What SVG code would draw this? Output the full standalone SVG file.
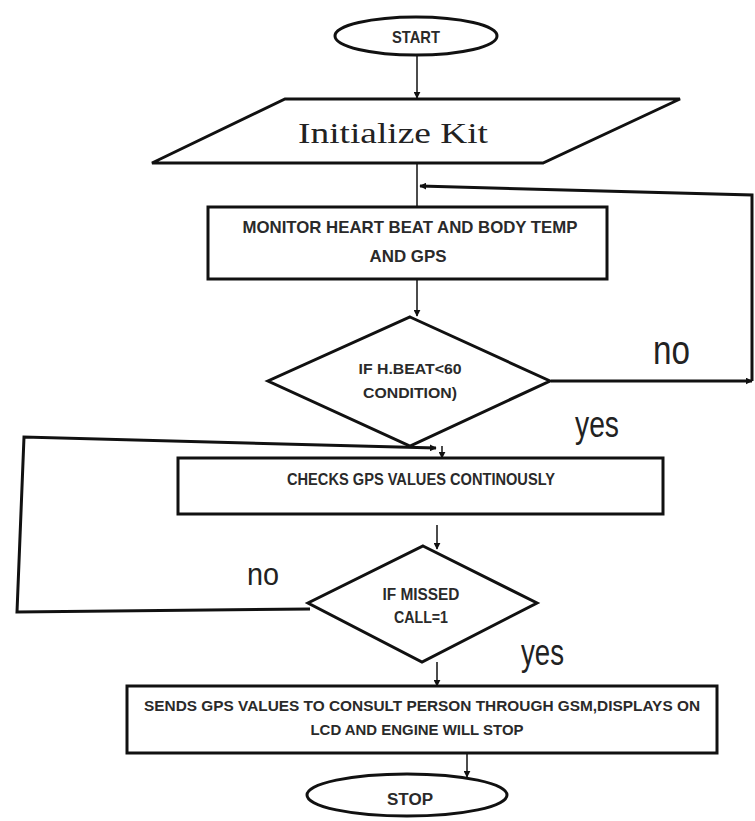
<svg xmlns="http://www.w3.org/2000/svg" width="755" height="821" viewBox="0 0 755 821">
<defs>
<marker id="arr" viewBox="0 0 10 10" refX="9" refY="5" markerWidth="7" markerHeight="7" markerUnits="userSpaceOnUse" orient="auto">
<path d="M0,0 L10,5 L0,10 z" fill="#111"/>
</marker>
</defs>
<style>
.shape{fill:#fff;stroke:#111;stroke-width:3}
.lbl{font-family:"Liberation Sans",Arial,sans-serif;font-weight:bold;fill:#2a2a2a;text-anchor:middle}
.yn{font-family:"Liberation Sans",Arial,sans-serif;fill:#222}
.con{fill:none;stroke:#111;stroke-width:1.5}
.loop{fill:none;stroke:#111;stroke-width:3}
</style>
<rect width="755" height="821" fill="#fff"/>
<g id="connectors">
<line class="con" x1="417" y1="56" x2="417" y2="98" marker-end="url(#arr)"/>
<line class="con" x1="417" y1="164" x2="417" y2="207"/>
<line class="loop" x1="551" y1="381" x2="752" y2="381" marker-end="url(#arr)"/>
<polyline class="loop" points="752,381 752,195 420,186" marker-end="url(#arr)"/>
<line class="con" x1="417" y1="280" x2="417" y2="316" marker-end="url(#arr)"/>
<line class="con" x1="442" y1="446" x2="442" y2="458" marker-end="url(#arr)"/>
<polyline class="loop" points="310,609 17,612 24,437 436,448" marker-end="url(#arr)"/>
<line class="con" x1="437" y1="525" x2="437" y2="549" marker-end="url(#arr)"/>
<line class="con" x1="437" y1="662" x2="437" y2="686" marker-end="url(#arr)"/>
<line class="con" x1="467" y1="754" x2="467" y2="777" marker-end="url(#arr)"/>
<text class="yn" x="653" y="364" font-size="40" textLength="37" lengthAdjust="spacingAndGlyphs">no</text>
<text class="yn" x="575" y="437" font-size="36" textLength="44" lengthAdjust="spacingAndGlyphs">yes</text>
<text class="yn" x="247" y="585" font-size="32" textLength="32" lengthAdjust="spacingAndGlyphs">no</text>
<text class="yn" x="521" y="665" font-size="36" textLength="43" lengthAdjust="spacingAndGlyphs">yes</text>
</g>
<g id="start">
<ellipse class="shape" cx="416" cy="36" rx="81" ry="19"/>
<text class="lbl" x="416" y="43" font-size="17" textLength="48" lengthAdjust="spacingAndGlyphs">START</text>
</g>
<g id="init">
<polygon class="shape" points="285,99 680,99 543,163 152,163"/>
<text x="393" y="143" font-family="'Liberation Serif','Times New Roman',serif" font-size="29" fill="#222" text-anchor="middle" textLength="190" lengthAdjust="spacingAndGlyphs">Initialize Kit</text>
</g>
<g id="monitor">
<rect class="shape" x="208" y="207" width="399" height="72"/>
<text class="lbl" x="410" y="233" font-size="17" textLength="335" lengthAdjust="spacingAndGlyphs">MONITOR HEART BEAT AND BODY TEMP</text>
<text class="lbl" x="408" y="262" font-size="17" textLength="77" lengthAdjust="spacingAndGlyphs">AND GPS</text>
</g>
<g id="cond1">
<polygon class="shape" points="410,317 550,381 410,446 268,381"/>
<text class="lbl" x="410" y="374" font-size="15" textLength="103" lengthAdjust="spacingAndGlyphs">IF H.BEAT&lt;60</text>
<text class="lbl" x="410" y="398" font-size="15" textLength="94" lengthAdjust="spacingAndGlyphs">CONDITION)</text>
</g>
<g id="checks">
<rect class="shape" x="178" y="458" width="485" height="56"/>
<text class="lbl" x="421" y="485" font-size="16" textLength="268" lengthAdjust="spacingAndGlyphs">CHECKS GPS VALUES CONTINOUSLY</text>
</g>
<g id="cond2">
<polygon class="shape" points="423,546 537,603 422,662 308,603"/>
<text class="lbl" x="421" y="600" font-size="16" textLength="77" lengthAdjust="spacingAndGlyphs">IF MISSED</text>
<text class="lbl" x="421" y="623" font-size="16" textLength="54" lengthAdjust="spacingAndGlyphs">CALL=1</text>
</g>
<g id="sends">
<rect class="shape" x="127" y="686" width="590" height="67"/>
<text class="lbl" x="422" y="711" font-size="15" textLength="556" lengthAdjust="spacingAndGlyphs">SENDS GPS VALUES TO CONSULT PERSON THROUGH GSM,DISPLAYS ON</text>
<text class="lbl" x="417" y="735" font-size="15" textLength="213" lengthAdjust="spacingAndGlyphs">LCD AND ENGINE WILL STOP</text>
</g>
<g id="stop">
<ellipse class="shape" cx="407" cy="795" rx="100" ry="21"/>
<text class="lbl" x="410" y="805" font-size="16" textLength="46" lengthAdjust="spacingAndGlyphs">STOP</text>
</g>
</svg>
